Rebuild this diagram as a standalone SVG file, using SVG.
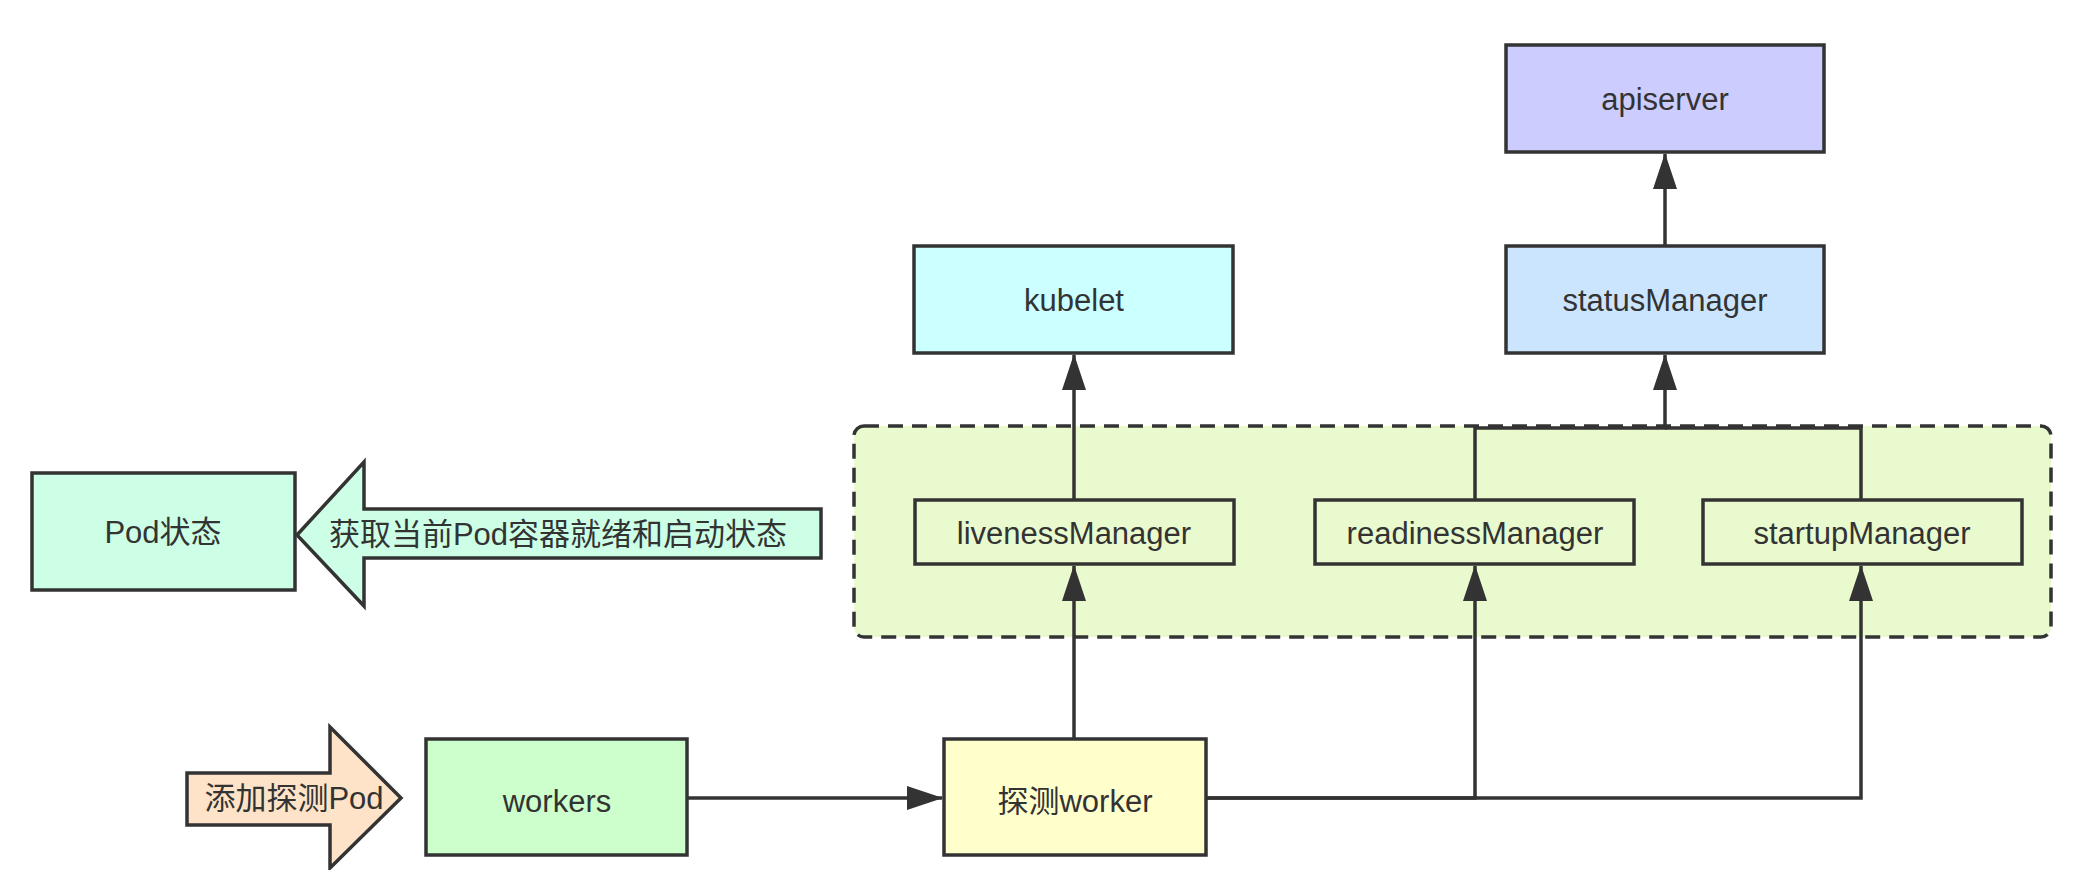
<svg xmlns="http://www.w3.org/2000/svg" width="2085" height="870" viewBox="0 0 2085 870">
<defs>
<style>
.box{stroke:#333;stroke-width:3.5}
.t{font-family:"Liberation Sans","Noto Sans CJK SC",sans-serif;font-size:31px;fill:#333;text-anchor:middle;dominant-baseline:central}
.c{fill:none;stroke:#333;stroke-width:3.5}
</style>
<marker id="ah" viewBox="0 0 36 24" refX="35" refY="12" markerWidth="36" markerHeight="24" markerUnits="userSpaceOnUse" orient="auto">
<path d="M0,0 L36,12 L0,24 Z" fill="#333"/>
</marker>
</defs>
<rect width="2085" height="870" fill="#fff"/>
<g id="group-managers">
<rect x="854" y="426" width="1197" height="211" rx="10" fill="#E9FACE" stroke="#333" stroke-width="3.5" stroke-dasharray="15 9"/>
</g>
<g id="apiserver"><rect class="box" x="1506" y="45" width="318" height="107" fill="#CCCCFF"/><text class="t" x="1665" y="99">apiserver</text></g>
<g id="statusManager"><rect class="box" x="1506" y="246" width="318" height="107" fill="#CCE5FF"/><text class="t" x="1665" y="300">statusManager</text></g>
<g id="kubelet"><rect class="box" x="914" y="246" width="319" height="107" fill="#CCFFFF"/><text class="t" x="1074" y="300">kubelet</text></g>
<g id="livenessManager"><rect class="box" x="915" y="500" width="319" height="64" fill="none"/><text class="t" x="1074" y="533">livenessManager</text></g>
<g id="readinessManager"><rect class="box" x="1315" y="500" width="319" height="64" fill="none"/><text class="t" x="1475" y="533">readinessManager</text></g>
<g id="startupManager"><rect class="box" x="1703" y="500" width="319" height="64" fill="none"/><text class="t" x="1862" y="533">startupManager</text></g>
<g id="pod-status"><rect class="box" x="32" y="473" width="263" height="117" fill="#CCFFE6"/><text class="t" x="163" y="532">Pod状态</text></g>
<g id="get-status-arrow"><polygon class="box" points="297,535 364,462 364,509 821,509 821,558 364,558 364,606" fill="#CCFFE6"/><text class="t" x="558" y="534">获取当前Pod容器就绪和启动状态</text></g>
<g id="add-probe-arrow"><polygon class="box" points="187,773 330,773 330,727 401,798 330,868 330,825 187,825" fill="#FFE3C8"/><text class="t" x="294" y="798">添加探测Pod</text></g>
<g id="workers"><rect class="box" x="426" y="739" width="261" height="116" fill="#CCFFCC"/><text class="t" x="557" y="801">workers</text></g>
<g id="probe-worker"><rect class="box" x="944" y="739" width="262" height="116" fill="#FFFFCC"/><text class="t" x="1075" y="801">探测worker</text></g>
<g id="connectors">
<path class="c" d="M687,798 L942,798" marker-end="url(#ah)"/>
<path class="c" d="M1074,739 L1074,566" marker-end="url(#ah)"/>
<path class="c" d="M1206,798 L1475,798 L1475,566" marker-end="url(#ah)"/>
<path class="c" d="M1206,798 L1861,798 L1861,566" marker-end="url(#ah)"/>
<path class="c" d="M1074,500 L1074,355" marker-end="url(#ah)"/>
<path class="c" d="M1475,500 L1475,428 L1665,428 L1665,355" marker-end="url(#ah)"/>
<path class="c" d="M1861,500 L1861,428 L1665,428"/>
<path class="c" d="M1665,246 L1665,154" marker-end="url(#ah)"/>
</g>
</svg>
